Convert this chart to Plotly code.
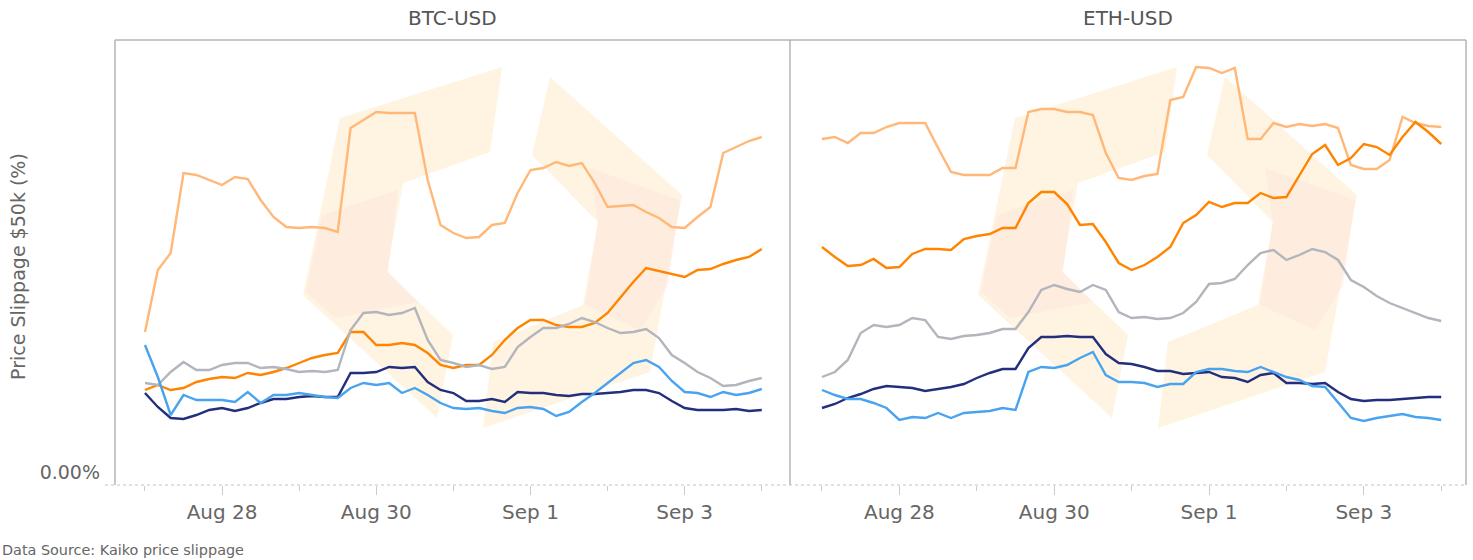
import plotly.graph_objects as go
import pandas as pd

# ---------------- data (slippage in %) ----------------
times = pd.date_range("2023-08-27 00:00", periods=49, freq="4h")

series_names = ["Venue 1", "Venue 2", "Venue 3", "Venue 4", "Venue 5"]
series_colors = ["#FFB877", "#FF8400", "#B3B5BC", "#232F7C", "#4AA3EE"]

btc_s1 = [0.0140,0.0202,0.0219,0.0299,0.0297,0.0292,0.0287,0.0295,0.0293,0.0272,0.0255,0.0245,0.0244,0.0245,0.0244,0.0240,0.0344,0.0352,0.0360,0.0359,0.0359,0.0359,0.0292,0.0247,0.0239,
          0.0234,0.0235,0.0247,0.0249,0.0279,0.0302,0.0304,0.0310,0.0306,0.0309,0.0289,0.0265,0.0266,0.0267,0.0260,0.0254,0.0245,0.0244,0.0255,0.0265,0.0319,0.0325,0.0331,0.0335]
btc_s2 = [0.0082,0.0087,0.0082,0.0084,0.0090,0.0093,0.0095,0.0094,0.0099,0.0097,0.0100,0.0104,0.0109,0.0114,0.0117,0.0119,0.0140,0.0140,0.0127,0.0127,0.0129,0.0127,0.0119,0.0107,0.0104,
          0.0107,0.0107,0.0117,0.0132,0.0144,0.0152,0.0152,0.0147,0.0145,0.0145,0.0149,0.0159,0.0175,0.0190,0.0204,0.0201,0.0198,0.0195,0.0202,0.0203,0.0208,0.0212,0.0215,0.0223]
btc_s3 = [0.0089,0.0087,0.0100,0.0110,0.0102,0.0102,0.0107,0.0109,0.0109,0.0104,0.0105,0.0103,0.0100,0.0101,0.0100,0.0102,0.0142,0.0159,0.0160,0.0157,0.0159,0.0164,0.0132,0.0112,0.0109,
          0.0105,0.0107,0.0103,0.0105,0.0125,0.0135,0.0144,0.0144,0.0148,0.0154,0.0150,0.0144,0.0139,0.0140,0.0143,0.0134,0.0117,0.0109,0.0100,0.0094,0.0086,0.0087,0.0091,0.0094]
btc_s4 = [0.0079,0.0065,0.0054,0.0053,0.0057,0.0062,0.0064,0.0061,0.0064,0.0069,0.0073,0.0073,0.0075,0.0076,0.0075,0.0075,0.0099,0.0099,0.0100,0.0105,0.0104,0.0105,0.0090,0.0082,0.0079,
          0.0071,0.0071,0.0073,0.0070,0.0080,0.0079,0.0079,0.0077,0.0076,0.0078,0.0078,0.0079,0.0080,0.0082,0.0082,0.0079,0.0071,0.0064,0.0062,0.0062,0.0062,0.0063,0.0061,0.0062]
btc_s5 = [0.0127,0.0095,0.0057,0.0077,0.0072,0.0072,0.0072,0.0070,0.0080,0.0069,0.0077,0.0077,0.0079,0.0077,0.0075,0.0074,0.0084,0.0089,0.0087,0.0089,0.0079,0.0084,0.0077,0.0069,0.0064,
          0.0063,0.0064,0.0061,0.0059,0.0064,0.0065,0.0063,0.0056,0.0060,0.0070,0.0079,0.0089,0.0099,0.0109,0.0112,0.0105,0.0091,0.0080,0.0079,0.0075,0.0080,0.0077,0.0079,0.0083]

eth_s1 = [0.0333,0.0335,0.0329,0.0339,0.0339,0.0345,0.0349,0.0349,0.0349,0.0324,0.0300,0.0297,0.0297,0.0297,0.0304,0.0304,0.0360,0.0363,0.0363,0.0360,0.0360,0.0357,0.0319,0.0294,0.0292,
          0.0296,0.0298,0.0372,0.0375,0.0405,0.0404,0.0399,0.0404,0.0333,0.0333,0.0349,0.0345,0.0348,0.0346,0.0348,0.0344,0.0307,0.0303,0.0303,0.0312,0.0355,0.0349,0.0346,0.0345]
eth_s2 = [0.0225,0.0215,0.0206,0.0207,0.0213,0.0204,0.0205,0.0218,0.0223,0.0223,0.0222,0.0233,0.0236,0.0238,0.0244,0.0244,0.0269,0.0280,0.0280,0.0268,0.0247,0.0248,0.0230,0.0209,0.0202,
          0.0207,0.0215,0.0225,0.0249,0.0257,0.0270,0.0265,0.0269,0.0269,0.0279,0.0274,0.0275,0.0297,0.0318,0.0327,0.0307,0.0314,0.0328,0.0325,0.0317,0.0335,0.0350,0.0340,0.0328]
eth_s3 = [0.0095,0.0100,0.0112,0.0139,0.0147,0.0145,0.0147,0.0154,0.0152,0.0135,0.0133,0.0136,0.0137,0.0139,0.0143,0.0143,0.0160,0.0182,0.0187,0.0183,0.0180,0.0187,0.0182,0.0160,0.0154,
          0.0155,0.0153,0.0154,0.0159,0.0170,0.0188,0.0189,0.0193,0.0207,0.0219,0.0222,0.0212,0.0217,0.0223,0.0220,0.0212,0.0192,0.0185,0.0176,0.0169,0.0164,0.0159,0.0154,0.0151]
eth_s4 = [0.0064,0.0068,0.0074,0.0078,0.0083,0.0086,0.0085,0.0084,0.0081,0.0083,0.0085,0.0088,0.0094,0.0099,0.0103,0.0103,0.0124,0.0135,0.0135,0.0136,0.0135,0.0135,0.0118,0.0109,0.0108,
          0.0105,0.0101,0.0101,0.0098,0.0099,0.0100,0.0095,0.0094,0.0090,0.0097,0.0099,0.0089,0.0089,0.0088,0.0089,0.0080,0.0073,0.0071,0.0072,0.0072,0.0073,0.0074,0.0075,0.0075]
eth_s5 = [0.0082,0.0077,0.0073,0.0073,0.0069,0.0064,0.0052,0.0055,0.0054,0.0059,0.0054,0.0059,0.0060,0.0061,0.0064,0.0062,0.0100,0.0105,0.0104,0.0107,0.0114,0.0120,0.0097,0.0090,0.0090,
          0.0089,0.0085,0.0088,0.0088,0.0100,0.0103,0.0103,0.0101,0.0100,0.0105,0.0100,0.0095,0.0092,0.0086,0.0085,0.0069,0.0054,0.0051,0.0054,0.0056,0.0058,0.0055,0.0054,0.0052]

panel_titles = ["BTC-USD", "ETH-USD"]
major_ticks = ["2023-08-28", "2023-08-30", "2023-09-01", "2023-09-03"]
major_labels = ["Aug 28", "Aug 30", "Sep 1", "Sep 3"]
y_tick_vals = [0]
y_tick_text = ["0.00%"]

# ---------------- figure ----------------
W, H = 1473, 560
ML, MR, MT, MB = 115, 7, 40, 75
PW, PH = W - ML - MR, H - MT - MB
split = 675 / PW

fig = go.Figure()
btc = [btc_s1, btc_s2, btc_s3, btc_s4, btc_s5]
eth = [eth_s1, eth_s2, eth_s3, eth_s4, eth_s5]
for k in range(5):
    fig.add_trace(go.Scatter(x=times, y=btc[k], mode="lines", name=series_names[k],
                             line=dict(color=series_colors[k], width=2.4), xaxis="x", yaxis="y",
                             showlegend=False))
for k in range(5):
    fig.add_trace(go.Scatter(x=times, y=eth[k], mode="lines", name=series_names[k],
                             line=dict(color=series_colors[k], width=2.4), xaxis="x2", yaxis="y2",
                             showlegend=False))

font_family = "DejaVu Sans, sans-serif"
xcommon = dict(
    tickmode="array", tickvals=major_ticks, ticktext=major_labels,
    ticks="outside", ticklen=9, tickcolor="#cccccc", tickwidth=1,
    tickfont=dict(family=font_family, size=20, color="#666666"),
    minor=dict(ticks="outside", dtick=86400000, tick0="2023-08-27", ticklen=5,
               tickcolor="#cccccc", tickwidth=1),
    showgrid=False, zeroline=False, showline=False, fixedrange=True,
)
ycommon = dict(range=[-0.0013, 0.0432], showgrid=False, zeroline=False, showline=False,
               tickmode="array", tickvals=y_tick_vals, ticktext=y_tick_text, ticks="",
               ticklabelstandoff=14,
               tickfont=dict(family=font_family, size=19, color="#666666"))

fig.update_layout(
    width=W, height=H, autosize=False,
    margin=dict(l=ML, r=MR, t=MT, b=MB, pad=0),
    paper_bgcolor="white", plot_bgcolor="rgba(0,0,0,0)",
    xaxis=dict(domain=[0, split], range=["2023-08-26 14:40", "2023-09-04 08:47"], anchor="y", **xcommon),
    xaxis2=dict(domain=[split, 1], range=["2023-08-26 14:05", "2023-09-04 07:41"], anchor="y2", **xcommon),
    yaxis=dict(domain=[0, 1], anchor="x", **ycommon),
    yaxis2=dict(domain=[0, 1], anchor="x2", **{**ycommon, "showticklabels": False}),
)

# ---- Kaiko-style faint watermark (pixel outline in the left panel, repeated in right) ----
logo_left = [(340, 118), (502, 67), (490, 152), (403, 183), (387, 272), (453, 335), (437, 418), (303, 295)]
logo_right = [(550, 77), (682, 195), (650, 372), (483, 428), (493, 342), (583, 305), (598, 222), (532, 155)]
pink_left = [(322, 215), (398, 190), (388, 272), (418, 302), (335, 318), (306, 292)]
pink_right = [(590, 168), (680, 200), (668, 285), (640, 330), (585, 305), (598, 222)]


def to_path(pts, dx):
    segs = []
    for i, (px, py) in enumerate(pts):
        xp = (px + dx - ML) / PW
        yp = (MT + PH - py) / PH
        segs.append(("M" if i == 0 else "L") + f"{xp:.4f},{yp:.4f}")
    return " ".join(segs) + " Z"


shapes = []
for dx in (0, 675):
    for pts, col in ((logo_left, "#FFF4E2"), (logo_right, "#FFF4E2"),
                     (pink_left, "rgba(252,224,218,0.40)"), (pink_right, "rgba(252,224,218,0.40)")):
        shapes.append(dict(type="path", path=to_path(pts, dx), xref="paper", yref="paper",
                           fillcolor=col, line=dict(width=0), layer="below"))

# panel frames
frame = dict(color="#b5b5b5", width=1.5)
shapes += [
    dict(type="line", xref="paper", yref="paper", x0=0, x1=1, y0=1, y1=1, line=frame),
    dict(type="line", xref="paper", yref="paper", x0=0, x1=0, y0=0, y1=1, line=frame),
    dict(type="line", xref="paper", yref="paper", x0=split, x1=split, y0=0, y1=1, line=frame),
    dict(type="line", xref="paper", yref="paper", x0=1, x1=1, y0=0, y1=1, line=frame),
    dict(type="line", xref="paper", yref="paper", x0=-10 / PW, x1=1, y0=0, y1=0,
         line=dict(color="#c4c4c4", width=1, dash="dot")),
]
fig.update_layout(shapes=shapes)

ann = []
for i, t in enumerate(panel_titles):
    ann.append(dict(text=t, xref="paper", yref="paper", x=(split / 2) if i == 0 else (split + 1) / 2,
                    y=1 + 22 / PH, xanchor="center", yanchor="middle", showarrow=False,
                    font=dict(family=font_family, size=20, color="#555555")))
ann.append(dict(text="Price Slippage $50k (%)", xref="paper", yref="paper", x=(18 - ML) / PW, y=0.49,
                xanchor="center", yanchor="middle", textangle=-90, showarrow=False,
                font=dict(family=font_family, size=19, color="#666666")))
ann.append(dict(text="Data Source: Kaiko price slippage", xref="paper", yref="paper", x=-ML / PW,
                y=-(550 - MT - PH) / PH, xanchor="left", yanchor="middle", showarrow=False,
                font=dict(family=font_family, size=14.4, color="#666666")))
fig.update_layout(annotations=ann)

fig.write_html("out.html", config={"displayModeBar": False},
               post_script="document.body.style.margin='0';")
